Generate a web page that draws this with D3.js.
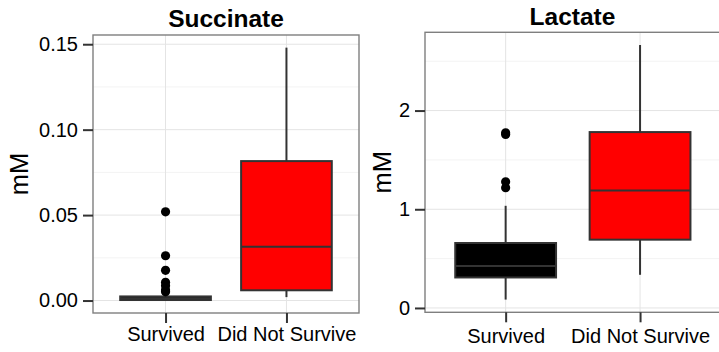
<!DOCTYPE html>
<html>
<head>
<meta charset="utf-8">
<script src="https://cdn.jsdelivr.net/npm/d3@7"></script>
<style>
  body { margin: 0; background: #fff; }
  svg { display: block; font-family: "Liberation Sans", Arial, Helvetica, sans-serif; }
</style>
</head>
<body>
<svg id="chart" width="719" height="352"></svg>
<script>
// categories on the x axis (same for both panels)
const categories = ['Survived', 'Did Not Survive'];
const boxFills = ['#000000', '#ff0000'];

// Succinate box stats per category: [whiskerLow, q1, median, q3, whiskerHigh]
const succinateStats = [
  [0.0001, 0.0003, 0.0013, 0.0024, 0.0045],
  [0.002, 0.006, 0.0315, 0.0816, 0.148],
];
const succinateOutliers = [
  [0.0051, 0.0061, 0.0087, 0.0107, 0.0177, 0.0262, 0.0519],
  [],
];
const succinateTicks = [0, 0.05, 0.1, 0.15];
const succinateTickLabels = ['0.00', '0.05', '0.10', '0.15'];

// Lactate
const lactateStats = [
  [0.085, 0.309, 0.424, 0.658, 1.035],
  [0.336, 0.692, 1.191, 1.782, 2.664],
];
const lactateOutliers = [
  [1.218, 1.279, 1.758, 1.775],
  [],
];
const lactateTicks = [0, 1, 2];
const lactateTickLabels = ['0', '1', '2'];

const svg = d3.select('#chart');

function drawPanel(opts) {
  const { left, right, top, bottom, title, stats, outliers, ticks, tickLabels, titleY, axisTitleX, xLabelPad } = opts;
  const g = svg.append('g');

  // y domain with ggplot-like 5% expansion
  const all = stats.flat().concat(outliers.flat());
  const lo = d3.min(all), hi = d3.max(all);
  const pad = (hi - lo) * 0.05;
  const y = d3.scaleLinear().domain([lo - pad, hi + pad]).range([bottom, top]);
  const x = d3.scalePoint().domain(categories).range([left, right]).padding(0.6);
  const step = x.step();

  // minor grid lines (midpoints of major ticks)
  const minor = [];
  for (let i = 0; i < ticks.length; i++) {
    const d = ticks[1] - ticks[0];
    const m = ticks[i] + d / 2;
    if (y(m) > top) minor.push(m);
  }
  g.append('g').selectAll('line').data(minor).join('line')
    .attr('x1', left).attr('x2', right)
    .attr('y1', d => y(d)).attr('y2', d => y(d))
    .attr('stroke', '#f3f3f3').attr('stroke-width', 1);

  // major grid
  g.append('g').selectAll('line').data(ticks).join('line')
    .attr('x1', left).attr('x2', right)
    .attr('y1', d => y(d)).attr('y2', d => y(d))
    .attr('stroke', '#e4e4e4').attr('stroke-width', 1);
  g.append('g').selectAll('line').data(categories).join('line')
    .attr('x1', d => x(d)).attr('x2', d => x(d))
    .attr('y1', top).attr('y2', bottom)
    .attr('stroke', '#e4e4e4').attr('stroke-width', 1);

  // boxes
  const boxes = g.append('g').selectAll('g').data(stats).join('g');
  boxes.append('line')
    .attr('x1', (d, i) => x(categories[i])).attr('x2', (d, i) => x(categories[i]))
    .attr('y1', d => y(d[0])).attr('y2', d => y(d[4]))
    .attr('stroke', '#333').attr('stroke-width', 2);
  boxes.append('rect')
    .attr('x', (d, i) => x(categories[i]) - step * 0.375)
    .attr('width', step * 0.75)
    .attr('y', d => y(d[3]))
    .attr('height', d => y(d[1]) - y(d[3]))
    .attr('fill', (d, i) => boxFills[i])
    .attr('stroke', '#333').attr('stroke-width', 2);
  boxes.append('line')
    .attr('x1', (d, i) => x(categories[i]) - step * 0.375)
    .attr('x2', (d, i) => x(categories[i]) + step * 0.375)
    .attr('y1', d => y(d[2])).attr('y2', d => y(d[2]))
    .attr('stroke', '#333').attr('stroke-width', 2);

  // outliers
  const pts = [];
  outliers.forEach((arr, i) => arr.forEach(v => pts.push({ c: categories[i], v })));
  g.append('g').selectAll('circle').data(pts).join('circle')
    .attr('cx', d => x(d.c)).attr('cy', d => y(d.v)).attr('r', 4.6)
    .attr('fill', '#000');

  // panel border
  g.append('rect')
    .attr('x', left).attr('y', top)
    .attr('width', right - left).attr('height', bottom - top)
    .attr('fill', 'none').attr('stroke', '#7f7f7f').attr('stroke-width', 1.4);

  // axes
  const yAxis = g.append('g').attr('transform', `translate(${left},0)`)
    .call(d3.axisLeft(y).tickValues(ticks).tickFormat((d, i) => tickLabels[i]).tickSize(10).tickPadding(5));
  const xAxis = g.append('g').attr('transform', `translate(0,${bottom})`)
    .call(d3.axisBottom(x).tickSize(10).tickPadding(xLabelPad));
  [yAxis, xAxis].forEach(a => {
    a.select('.domain').remove();
    a.selectAll('line').attr('stroke', '#333').attr('stroke-width', 2);
    a.selectAll('text').attr('fill', '#000').style('font-size', '20px')
      .style('font-family', '"Liberation Sans", Arial, sans-serif');
  });

  // titles
  g.append('text')
    .attr('x', (left + Math.min(right, 719)) / 2 + (right > 719 ? 0.5 : 0))
    .attr('y', titleY)
    .attr('text-anchor', 'middle')
    .style('font-size', '24.5px').style('font-weight', 'bold')
    .text(title);
  g.append('text')
    .attr('transform', `translate(${axisTitleX},${(top + bottom) / 2}) rotate(-90)`)
    .attr('text-anchor', 'middle')
    .style('font-size', '25.5px')
    .text('mM');
}

drawPanel({
  left: 93, right: 359, top: 35, bottom: 313,
  title: 'Succinate', titleY: 26.5, axisTitleX: 28, xLabelPad: 4,
  stats: succinateStats, outliers: succinateOutliers,
  ticks: succinateTicks, tickLabels: succinateTickLabels,
});
drawPanel({
  left: 425, right: 720.7, top: 32.3, bottom: 312.3,
  title: 'Lactate', titleY: 25, axisTitleX: 391, xLabelPad: 7,
  stats: lactateStats, outliers: lactateOutliers,
  ticks: lactateTicks, tickLabels: lactateTickLabels,
});
</script>
</body>
</html>
